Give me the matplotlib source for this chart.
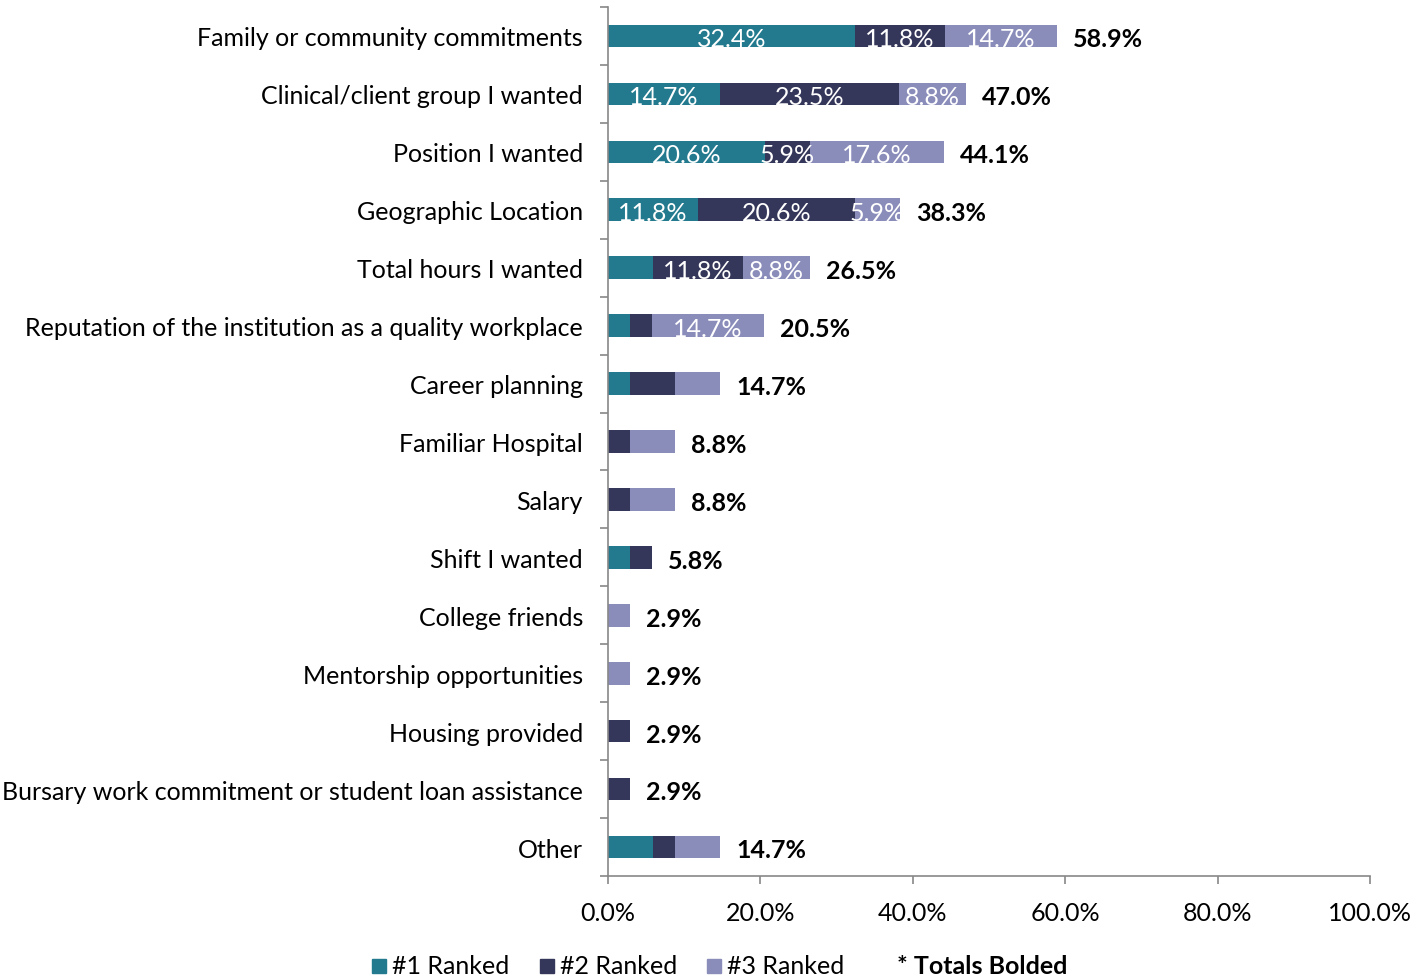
import numpy as np
import matplotlib.pyplot as plt
from matplotlib.patches import Rectangle
from matplotlib.ticker import PercentFormatter, FixedLocator

plt.rcParams['font.family'] = ['Lato', 'DejaVu Sans']

# Survey results: share of respondents ranking each factor 1st, 2nd or 3rd
categories = [
    'Family or community commitments',
    'Clinical/client group I wanted',
    'Position I wanted',
    'Geographic Location',
    'Total hours I wanted',
    'Reputation of the institution as a quality workplace',
    'Career planning',
    'Familiar Hospital',
    'Salary',
    'Shift I wanted',
    'College friends',
    'Mentorship opportunities',
    'Housing provided',
    'Bursary work commitment or student loan assistance',
    'Other',
]
rank1 = [32.4, 14.7, 20.6, 11.8, 5.9, 2.9, 2.9, 0, 0, 2.9, 0, 0, 0, 0, 5.9]
rank2 = [11.8, 23.5, 5.9, 20.6, 11.8, 2.9, 5.9, 2.9, 2.9, 2.9, 0, 0, 2.9, 2.9, 2.9]
rank3 = [14.7, 8.8, 17.6, 5.9, 8.8, 14.7, 5.9, 5.9, 5.9, 0, 2.9, 2.9, 0, 0, 5.9]
totals = [58.9, 47.0, 44.1, 38.3, 26.5, 20.5, 14.7, 8.8, 8.8, 5.8, 2.9, 2.9, 2.9, 2.9, 14.7]

# which segments carry a value label inside the bar
show1 = [1, 1, 1, 1, 0, 0, 0, 0, 0, 0, 0, 0, 0, 0, 0]
show2 = [1, 1, 1, 1, 1, 0, 0, 0, 0, 0, 0, 0, 0, 0, 0]
show3 = [1, 1, 1, 1, 1, 1, 0, 0, 0, 0, 0, 0, 0, 0, 0]

series = ['#1 Ranked', '#2 Ranked', '#3 Ranked']
colors = ['#237a8e', '#35375a', '#8a8cba']

fs = 18

fig = plt.figure(figsize=(14.16, 9.79), dpi=100)
ax = fig.add_axes([608 / 1416, 1 - 877 / 979, 762 / 1416, 869 / 979])

y = np.arange(len(categories))
left = np.zeros(len(categories))
for vals, show, col in zip([rank1, rank2, rank3], [show1, show2, show3], colors):
    vals = np.array(vals)
    ax.barh(y, vals, left=left, height=0.39, color=col, edgecolor='none')
    for i, (v, s) in enumerate(zip(vals, show)):
        if s:
            ax.text(left[i] + v / 2, y[i] + 0.05, f'{v:.1f}%', ha='center', va='center',
                    color='white', fontsize=fs)
    left += vals

for i, t in enumerate(totals):
    ax.annotate(f'{t:.1f}%', (left[i], y[i] + 0.05), xytext=(16, 0), textcoords='offset pixels',
                ha='left', va='center', fontsize=fs, fontweight='bold', color='black')

ax.set_ylim(len(categories) - 0.5, -0.5)
ax.set_xlim(0, 100)
ax.set_yticks(y)
ax.set_yticklabels(categories, fontsize=fs)
ax.yaxis.set_minor_locator(FixedLocator(np.arange(-0.5, len(categories), 1)))
ax.tick_params(axis='y', which='major', length=0, pad=18)
ax.tick_params(axis='y', which='minor', length=6, color='#888888', width=1.2)
ax.xaxis.set_major_locator(FixedLocator(np.arange(0, 101, 20)))
ax.xaxis.set_major_formatter(PercentFormatter(decimals=1))
ax.tick_params(axis='x', length=6, color='#888888', width=1.2, labelsize=fs, pad=12)

for side in ['top', 'right']:
    ax.spines[side].set_visible(False)
for side in ['left', 'bottom']:
    ax.spines[side].set_color('#888888')
    ax.spines[side].set_linewidth(1.2)

# legend row along the bottom edge
lx = [372, 540, 707]
ly = 1 - 967 / 979
for x0, lab, col in zip(lx, series, colors):
    fig.patches.append(Rectangle((x0 / 1416, ly - 7 / 979), 14 / 1416, 14 / 979,
                                 transform=fig.transFigure, color=col))
    fig.text((x0 + 20) / 1416, ly, lab, ha='left', va='center', fontsize=fs)
fig.text(897 / 1416, ly, '* Totals Bolded', ha='left', va='center', fontsize=fs,
         fontweight='bold')

fig.savefig('out.png', dpi=100)
